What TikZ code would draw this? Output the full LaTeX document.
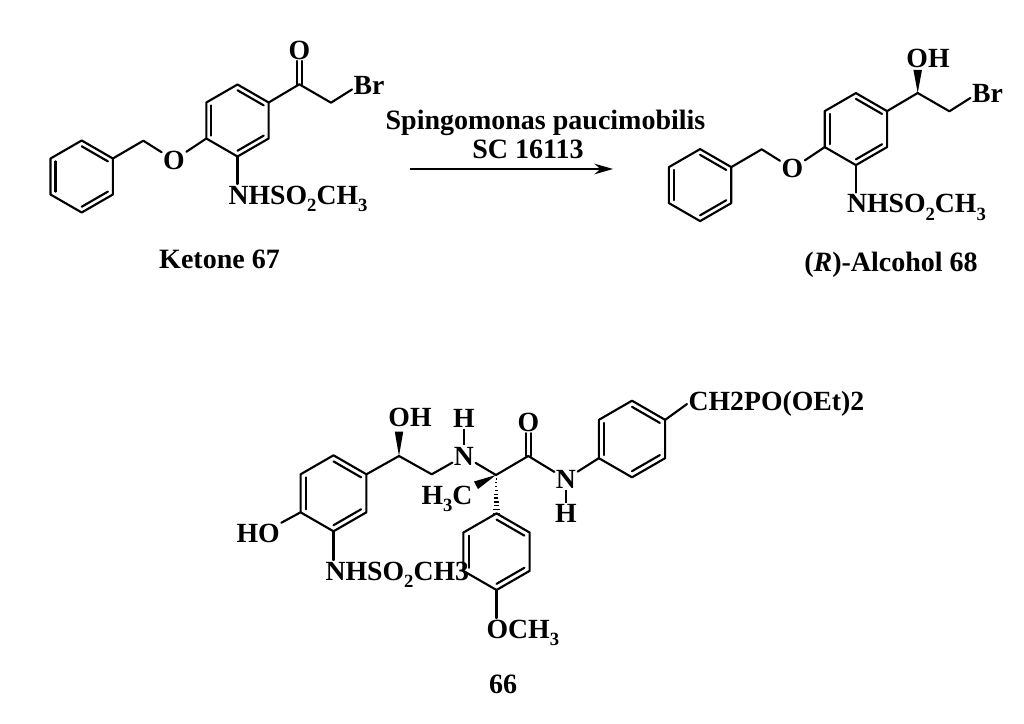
\documentclass[tikz,border=0pt]{standalone}
\usepackage{fontspec}
\setmainfont{Liberation Serif}
\usetikzlibrary{calc,arrows.meta}
\tikzset{
  bond/.style={line width=1.6pt,line join=round,line cap=round},
  atom/.style={inner sep=1pt,font=\fontsize{20.8}{22}\selectfont\bfseries},
  caption/.style={inner sep=0pt,font=\fontsize{21}{24}\selectfont\bfseries},
}
\newcommand{\chemsub}[1]{\raisebox{-.28em}{\fontsize{14}{15}\selectfont #1}}
\newcommand{\hexring}[4]{
  \coordinate (#1c) at (#2,#3);
  \foreach \i/\a in {1/-90,2/-30,3/30,4/90,5/150,6/210}
    \coordinate (#1\i) at ($(#1c)+(\a:#4)$);
  \draw[bond] (#11) -- (#12) -- (#13) -- (#14) -- (#15) -- (#16) -- cycle;
  \draw[bond] ($(#11)!.16!(#1c)$) -- ($(#12)!.16!(#1c)$);
  \draw[bond] ($(#13)!.16!(#1c)$) -- ($(#14)!.16!(#1c)$);
  \draw[bond] ($(#15)!.16!(#1c)$) -- ($(#16)!.16!(#1c)$);
}
\newcommand{\wedgebond}[3]{
  \fill (#1) -- ($(#2)!#3!90:(#1)$) -- ($(#2)!#3!-90:(#1)$) -- cycle;
}
\begin{document}
\begin{tikzpicture}[x=.75pt,y=-.75pt]
  \useasboundingbox (0,0) rectangle (1024,724);
  % ketone
  \hexring{a}{237.5}{120.5}{36}
  \hexring{b}{81.7}{176.5}{36}
  \coordinate (a7) at (299.3,84.3);
  \coordinate (a8) at (331,102.7);
  \coordinate (a9) at (143.3,140.7);
  \node[atom] (ao) at (299.3,50) {O};
  \node[atom,anchor=base west] (abr) at (352,94.5) {Br};
  \node[atom] (ao2) at (174,160) {O};
  \node[atom,anchor=base west] (an) at (227,204) {NHSO\chemsub{2}CH\chemsub{3}};
  \draw[bond] (a2) -- (a7) -- (a8) -- ([yshift=-3pt]abr.west);
  \draw[bond] ([xshift=-2pt]ao.south) -- ([xshift=-2pt]a7);
  \draw[bond] ([xshift=2pt]ao.south) -- ([xshift=2pt]a7);
  \draw[bond] (a5) -- (ao2) -- (a9) -- (b2);
  \draw[bond] (a4) -- (a4 |- an.north);
  \node[caption,anchor=base] (acap) at (219.5,268) {Ketone 67};
  % arrow
  \coordinate (r1) at (410,169);
  \coordinate (r2) at (613,169);
  \draw[line width=1.1pt,-{Stealth[length=14pt,width=8pt]}] (r1) -- (r2);
  \node[caption,anchor=base] (r3) at (545.5,129) {Spingomonas paucimobilis};
  \node[caption,anchor=base] (r4) at (528,158) {SC 16113};
  % alcohol
  \hexring{c}{855.9}{129.1}{36}
  \hexring{d}{700.1}{185.1}{36}
  \coordinate (c7) at (917.7,93);
  \coordinate (c8) at (949.4,111.3);
  \coordinate (c9) at (761.7,149.3);
  \coordinate (c10) at (917.7,70);
  \node[atom] (co) at (928,58.3) {OH};
  \node[atom,anchor=base west] (cbr) at (970.4,103) {Br};
  \node[atom] (co2) at (792.4,168.6) {O};
  \node[atom,anchor=base west] (cn) at (845.4,212.6) {NHSO\chemsub{2}CH\chemsub{3}};
  \draw[bond] (c2) -- (c7) -- (c8) -- ([yshift=-3pt]cbr.west);
  \wedgebond{c7}{c10}{3.2pt}
  \draw[bond] (c5) -- (co2) -- (c9) -- (d2);
  \draw[bond] (c4) -- (c4 |- cn.north);
  \node[caption,anchor=base] (ccap) at (891,271) {(\textit{R})-Alcohol 68};
  % compound 66
  \hexring{e}{333.5}{493.3}{38}
  \hexring{f}{496.5}{551.7}{38.3}
  \hexring{g}{632}{439}{38.3}
  \coordinate (e7) at (399,456);
  \coordinate (e8) at (431.7,474.3);
  \coordinate (e9) at (399,431.5);
  \coordinate (e10) at (496,475);
  \coordinate (e11) at (528.3,456);
  \coordinate (e12) at (476,485.3);
  \node[atom] (eoh) at (410,417.3) {OH};
  \node[atom] (eh) at (464,418.3) {H};
  \node[atom] (en) at (464,456) {N};
  \node[atom] (eo) at (528.3,422.3) {O};
  \node[atom] (en2) at (566,479) {N};
  \node[atom] (eh2) at (566,513.3) {H};
  \node[atom,anchor=base] (eme) at (447,504) {H\chemsub{3}C};
  \node[atom,anchor=base west] (eho) at (235,542.7) {HO};
  \node[atom,anchor=base west] (ens) at (324,580) {NHSO\chemsub{2}CH3};
  \node[atom,anchor=base west] (eome) at (485,638) {OCH\chemsub{3}};
  \node[atom,anchor=base west] (ep) at (687,410.7) {CH2PO(OEt)2};
  \draw[bond] (e2) -- (e7) -- (e8) -- (en) -- (e10) -- (e11) -- (en2) -- (g5);
  \wedgebond{e7}{e9}{3.2pt}
  \wedgebond{e10}{e12}{3.2pt}
  \foreach \t in {.1,.2,...,1.01}
    \draw[line width=1pt] ($(e10)!\t!(f1)+(-3.6*\t,0)$) -- ($(e10)!\t!(f1)+(3.6*\t,0)$);
  \draw[line width=.9pt] (eh) -- (en);
  \draw[line width=.9pt] (en2) -- (eh2);
  \draw[bond] ([xshift=-2pt]eo.south) -- ([xshift=-2pt]e11);
  \draw[bond] ([xshift=2pt]eo.south) -- ([xshift=2pt]e11);
  \draw[bond] (e5) -- (eho.north east);
  \draw[bond] (e4) -- (e4 |- ens.north);
  \draw[bond] (f4) -- (f4 |- eome.north);
  \draw[bond] (g2) -- (ep.west);
  \node[caption,anchor=base] (ecap) at (503,693) {66};
\end{tikzpicture}
\end{document}
